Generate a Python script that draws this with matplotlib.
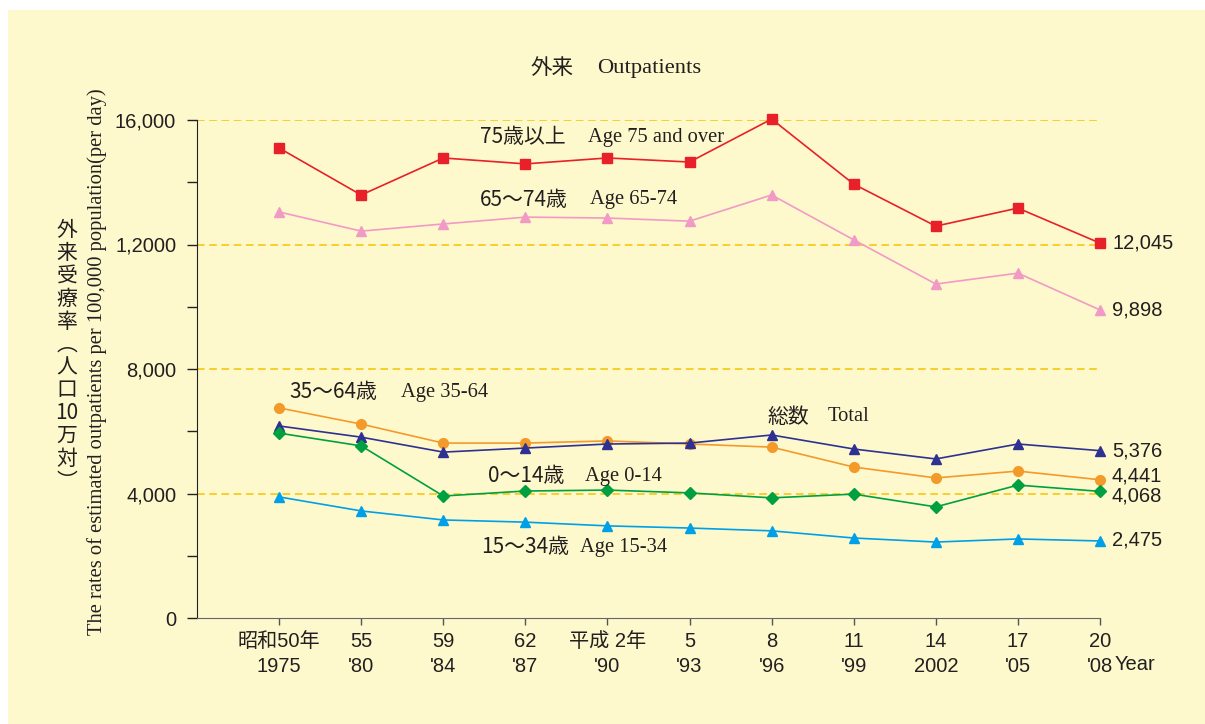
import numpy as np
import matplotlib.pyplot as plt
from matplotlib.patches import Rectangle

# Daten
years_jp = ['昭和50年', '55', '59', '62', '平成 2年', '5', '8', '11', '14', '17', '20']
years_en = ['1975', "'80", "'84", "'87", "'90", "'93", "'96", "'99", '2002', "'05", "'08"]

age75_over = [15100, 13590, 14780, 14590, 14780, 14650, 16030, 13940, 12590, 13170, 12045]
age65_74 = [13045, 12430, 12660, 12880, 12850, 12750, 13590, 12150, 10730, 11080, 9898]
age35_64 = [6750, 6230, 5620, 5620, 5690, 5590, 5490, 4850, 4500, 4720, 4441]
total = [6170, 5810, 5330, 5460, 5590, 5620, 5880, 5430, 5110, 5590, 5376]
age0_14 = [5940, 5530, 3920, 4080, 4110, 4020, 3860, 3980, 3570, 4270, 4068]
age15_34 = [3890, 3440, 3150, 3080, 2960, 2890, 2800, 2570, 2440, 2540, 2475]

end_labels = ['12,045', '9,898', '4,441', '5,376', '4,068', '2,475']
ytick_labels = ['0', '4,000', '8,000', '1,2000', '16,000']

jp_labels = ['75歳以上', '65～74歳', '35～64歳', '総数', '0～14歳', '15～34歳']
en_labels = ['Age 75 and over', 'Age 65-74', 'Age 35-64', 'Total', 'Age 0-14', 'Age 15-34']

SANS = ['Liberation Sans', 'Noto Sans CJK JP']
CJK = ['Noto Sans CJK JP', 'DejaVu Sans']
SERIF = ['Liberation Serif', 'DejaVu Serif']
TXT = '#231f20'

fig = plt.figure(figsize=(12.05, 7.24), dpi=100)
fig.patch.set_facecolor('white')
# gelber Hintergrund
fig.patches.append(Rectangle((8 / 1205, 0), 1, 1 - 10 / 724, transform=fig.transFigure,
                             facecolor='#fef9cc', edgecolor='none', zorder=-10))

ax = fig.add_axes([197 / 1205, 1 - 618 / 724, (1100 - 197) / 1205, 498 / 724])
ax.set_facecolor('none')

x = np.arange(len(years_en))
series = [
    (age75_over, '#e8202a', 's', 6.5, (12, 0)),
    (age65_74, '#f29ac6', '^', 7, (12, 0)),
    (age35_64, '#f39a2b', 'o', 7, (12, 4)),
    (total, '#2e3192', '^', 7, (12, 0)),
    (age0_14, '#00a040', 'D', 6, (12, -5)),
    (age15_34, '#00a0e9', '^', 7, (12, 1)),
]
for (vals, col, mk, ms, off), lab in zip(series, end_labels):
    ax.plot(x, vals, color=col, marker=mk, markersize=ms, linewidth=1.2, zorder=3,
            clip_on=False)
    ax.annotate(lab, (x[-1], vals[-1]), xytext=off, textcoords='offset pixels',
                ha='left', va='center', fontsize=14.5, family=SANS, color=TXT,
                annotation_clip=False)

# Reihenbeschriftungen (Japanisch + Englisch)
jp_pos = [(2.45, 15450), (2.45, 13430), (0.13, 7260), (5.95, 6460), (2.54, 4560), (2.46, 2280)]
en_x = [3.76, 3.79, 1.48, 6.68, 3.73, 3.67]
for (px, py), ex, jl, el in zip(jp_pos, en_x, jp_labels, en_labels):
    ax.text(px, py, jl, ha='left', va='center', fontsize=15, family=CJK, color=TXT)
    ax.text(ex, py, el, ha='left', va='center', fontsize=14.8, family=SERIF, color=TXT)

ax.set_xlim(-1, 10)
ax.set_ylim(0, 16000)
ax.set_yticks([0, 4000, 8000, 12000, 16000])
ax.set_yticks(np.arange(2000, 16000, 4000), minor=True)
ax.set_yticklabels(ytick_labels, fontsize=14.5, family=SANS, color=TXT)
ax.set_xticks(x)
ax.set_xticklabels([j + '\n' + e for j, e in zip(years_jp, years_en)],
                   fontsize=14.5, family=SANS, color=TXT, linespacing=1.4)

ax.tick_params(axis='y', which='both', direction='out', length=7, width=1, pad=8, color='#222')
ax.tick_params(axis='x', direction='out', length=5, width=1, pad=5, color='#555')

ax.grid(axis='y', which='major', color='#f5c400', linestyle=(0, (5, 3)), linewidth=1.1)
ax.yaxis.get_gridlines()[0].set_visible(False)
ax.set_axisbelow(True)

for s in ['top', 'right']:
    ax.spines[s].set_visible(False)
ax.spines['left'].set_color('#222')
ax.spines['bottom'].set_color('#666')

fig.text(1115 / 1205, 1 - 665 / 724, 'Year', ha='left', va='center', fontsize=14.5,
         family=SANS, color=TXT)

# Titel
fig.text(530 / 1205, 1 - 68 / 724, '外来', ha='left', va='center', fontsize=15.5,
         family=CJK, color=TXT)
fig.text(597 / 1205, 1 - 68 / 724, 'Outpatients', ha='left', va='center', fontsize=16.2,
         family=SERIF, color=TXT)

# Achsenbeschriftungen
jp_ylabel = '\n'.join(['外', '来', '受', '療', '率', '︵', '人', '口', '10', '万', '対', '︶'])
fig.text(67 / 1205, 1 - 356 / 724, jp_ylabel, ha='center', va='center', fontsize=15,
         family=CJK, color=TXT, linespacing=1.05)
fig.text(97 / 1205, 1 - 362 / 724,
         'The rates of estimated outpatients per 100,000 population(per day)',
         rotation=90, ha='center', va='center', fontsize=14.8, family=SERIF, color=TXT)

plt.savefig('out.png', dpi=100, facecolor=fig.get_facecolor())
